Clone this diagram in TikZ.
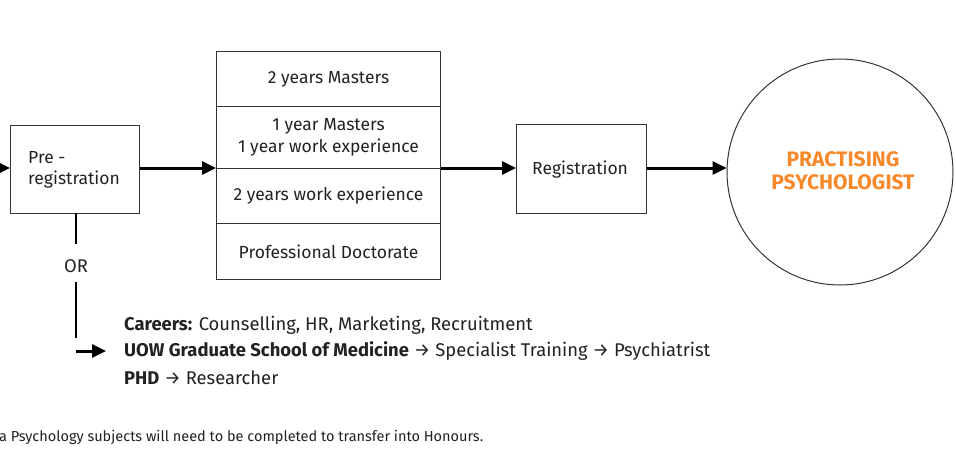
\documentclass[tikz,border=0pt]{standalone}
\usepackage{fontspec}
\setmainfont{Fira Sans}
\usetikzlibrary{arrows.meta}
\definecolor{uoworange}{HTML}{F7892B}
\definecolor{txt}{HTML}{222222}
\newcommand{\dn}[1]{\raisebox{-2.5pt}{#1}}
\begin{document}
\begin{tikzpicture}[x=1pt,y=-1pt,
  boxst/.style={draw=black!80,line width=1pt,inner sep=0pt,font=\fontsize{17.5}{21}\selectfont,text=txt},
  cellst/.style={draw=black!80,line width=1pt,minimum width=224pt,inner sep=0pt,font=\fontsize{17.5}{21}\selectfont,text=txt,align=center},
  flow/.style={line width=3pt,-{Triangle[length=14pt,width=13pt]}},
  plain/.style={line width=2pt},
  lbl/.style={font=\fontsize{18.4}{22}\selectfont,text=txt,anchor=west,inner sep=0pt}]
\useasboundingbox (0,0) rectangle (956,450);
\coordinate (start) at (0,168);
\node[boxst,minimum width=129pt,minimum height=88pt,anchor=north west] (pre) at (10,125) {};
\node[font=\fontsize{17.5}{21}\selectfont,text=txt,anchor=west,align=left,inner sep=0pt] (prel) at (28,170) {Pre -\\registration};
\node[cellst,minimum height=55pt,anchor=north west] (c1) at (216,51) {\dn{2 years Masters}};
\node[cellst,minimum height=62pt,anchor=north west] (c2) at (216,106) {\dn{1 year Masters}\\[1.5pt]\dn{1 year work experience}};
\node[cellst,minimum height=55pt,anchor=north west] (c3) at (216,168) {\dn{2 years work experience}};
\node[cellst,minimum height=56pt,anchor=north west] (c4) at (216,223) {\dn{Professional Doctorate}};
\node[boxst,minimum width=130pt,minimum height=89pt,anchor=north west] (reg) at (516,124) {};
\node[font=\fontsize{17.5}{21}\selectfont,text=txt,anchor=west,inner sep=0pt] (regl) at (532,170) {Registration};
\node[draw=black!80,line width=1pt,circle,minimum size=226pt,inner sep=0pt] (prac) at (840,172) {};
\node[font=\fontsize{21}{23}\selectfont\bfseries,text=uoworange,align=center] (pracl) at (843,171) {PRACTISING\\PSYCHOLOGIST};
\draw[flow] (start) -- (pre.west |- start);
\draw[flow] (pre.east |- c3.north) -- (c3.north west);
\draw[flow] (c3.north east) -- (reg.west |- c3.north);
\draw[flow] (reg.east |- c3.north) -- (prac.west |- c3.north);
\coordinate (v0) at (76,213);
\coordinate (v1) at (76,244);
\node[lbl,anchor=center] (or) at (76,266) {OR};
\coordinate (v2) at (76,282);
\coordinate (v3) at (76,338);
\draw[plain] (v0) -- (v1);
\draw[plain] (v2) -- (v3);
\coordinate (a0) at (76,351);
\coordinate (a1) at (106,351);
\draw[flow] (a0) -- (a1);
\node[lbl] (l1) at (124,325) {\textbf{Careers:} Counselling, HR, Marketing, Recruitment};
\node[lbl] (l2) at (124,351) {\textbf{UOW Graduate School of Medicine} → Specialist Training → Psychiatrist};
\node[lbl] (l3) at (124,378) {\textbf{PHD} → Researcher};
\node[anchor=west,inner sep=0pt,font=\fontsize{14.5}{16}\selectfont,text=txt] (foot) at (-1,437) {a Psychology subjects will need to be completed to transfer into Honours.};
\end{tikzpicture}
\end{document}
